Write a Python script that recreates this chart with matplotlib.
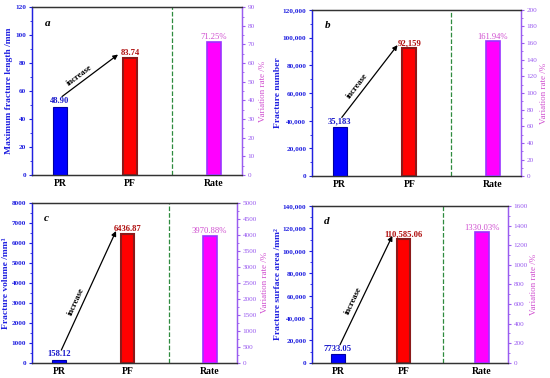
import numpy as np
import matplotlib
matplotlib.use("Agg")
import matplotlib.pyplot as plt
from matplotlib.ticker import FuncFormatter, AutoMinorLocator

plt.rcParams['font.family'] = ['Liberation Serif', 'DejaVu Serif']
plt.rcParams['font.weight'] = 'bold'

categories = ["PR", "PF", "Rate"]
panel_letters = ["a", "b", "c", "d"]

pr_values = [48.90, 35183, 158.12, 7733.05]
pf_values = [83.74, 92159, 6436.87, 110585.06]
rate_values = [71.25, 161.94, 3970.88, 1330.03]

pr_labels = ["48.90", "35,183", "158.12", "7733.05"]
pf_labels = ["83.74", "92,159", "6436.87", "110,585.06"]
rate_labels = ["71.25%", "161.94%", "3970.88%", "1330.03%"]

left_labels = ["Maximum fracture length /mm", "Fracture number",
               "Fracture volume /mm³", "Fracture surface area /mm²"]
left_max = [120, 120000, 8000, 140000]
left_step = [20, 20000, 1000, 20000]
right_max = [90, 200, 5000, 1600]
right_step = [10, 20, 500, 200]
left_comma = [False, True, False, True]

positions = [1, 2, 3.2]
divider_x = 2.6

boxes = [
    [0.058, 0.537, 0.382, 0.444],
    [0.567, 0.534, 0.380, 0.440],
    [0.058, 0.040, 0.373, 0.423],
    [0.567, 0.040, 0.357, 0.415],
]
left_label_x = [-0.11, -0.16, -0.125, -0.17]
right_label_x = [1.10, 1.11, 1.135, 1.13]

blue = "#2020e0"
violet = "#9a5cf0"
magenta_txt = "#d050d0"

fig = plt.figure(figsize=(5.5, 3.78), dpi=100)

for i in range(4):
    ax = fig.add_axes(boxes[i])
    ax2 = ax.twinx()
    ax.set_xlim(0.6, 3.6)
    ax.set_ylim(0, left_max[i])
    ax2.set_ylim(0, right_max[i])

    ax.bar(positions[0], pr_values[i], width=0.2, color="#0000ff",
           edgecolor="#0000a0", linewidth=0.8, zorder=3)
    ax.bar(positions[1], pf_values[i], width=0.2, color="#ff0000",
           edgecolor="#8b1a1a", linewidth=1.5, zorder=3)
    ax2.bar(positions[2], rate_values[i], width=0.2, color="#ff00ff",
            edgecolor="#9933ff", linewidth=1.2, zorder=3)
    ax.axvline(divider_x, color="#2e8b3e", linestyle="--", linewidth=0.9)

    ym = left_max[i]
    ax.text(positions[0], pr_values[i] + 0.01 * ym, pr_labels[i], ha="center",
            va="bottom", color="#1a1acc", fontsize=6.2, fontweight="bold")
    ax.text(positions[1], pf_values[i] + 0.005 * ym, pf_labels[i], ha="center",
            va="bottom", color="#b01010", fontsize=6.2, fontweight="bold")
    ax2.text(positions[2], rate_values[i] + 0.005 * right_max[i], rate_labels[i],
             ha="center", va="bottom", color=magenta_txt, fontsize=6.2,
             fontweight="normal")

    # arrow from PR to PF
    start = (positions[0] + 0.03, pr_values[i] + 0.06 * ym)
    end = (positions[1] - 0.17, pf_values[i] + 0.02 * ym)
    ax.annotate("", xy=end, xytext=start,
                arrowprops=dict(arrowstyle="-|>", color="black", lw=0.9,
                                mutation_scale=7, shrinkA=0, shrinkB=0))
    p0 = ax.transData.transform(start)
    p1 = ax.transData.transform(end)
    d = p1 - p0
    ang = np.degrees(np.arctan2(d[1], d[0]))
    u = d / np.hypot(*d)
    nrm = np.array([-u[1], u[0]])
    pos = p0 + 0.38 * d + 7 * nrm
    tx, ty = ax.transData.inverted().transform(pos)
    ax.text(tx, ty, "increase", rotation=ang, rotation_mode="anchor",
            ha="center", va="center", fontsize=6.2, fontweight="bold")

    ax.text(0.06, 0.93, panel_letters[i], transform=ax.transAxes,
            fontsize=8, fontweight="bold", style="italic", va="top")

    ax.set_xticks(positions)
    ax.set_xticklabels(categories, fontsize=7, fontweight="bold")
    ax.tick_params(axis="x", length=0, pad=3)

    ax.set_yticks(np.arange(0, left_max[i] + 1, left_step[i]))
    if left_comma[i]:
        ax.yaxis.set_major_formatter(FuncFormatter(lambda v, p: f"{int(v):,}"))
    ax.yaxis.set_minor_locator(AutoMinorLocator(2))
    ax.tick_params(axis="y", colors=blue, labelsize=5.2, length=2.5, width=0.8, pad=1.5)
    ax.tick_params(axis="y", which="minor", colors=blue, length=1.5, width=0.6)
    ax.set_ylabel(left_labels[i], color=blue, fontsize=6.8, fontweight="bold")
    ax.yaxis.set_label_coords(left_label_x[i], 0.5)
    ax.yaxis.label.set_va("center")

    ax2.set_yticks(np.arange(0, right_max[i] + 1, right_step[i]))
    ax2.yaxis.set_minor_locator(AutoMinorLocator(2))
    ax2.tick_params(axis="y", colors=violet, labelsize=5.2, length=2.5, width=0.8, pad=1.5)
    ax2.tick_params(axis="y", which="minor", colors=violet, length=1.5, width=0.6)
    for t in ax2.get_yticklabels():
        t.set_fontweight("normal")
    ax2.set_ylabel("Variation rate /%", color=magenta_txt, fontsize=6.5,
                   fontweight="normal")
    ax2.yaxis.set_label_coords(right_label_x[i], 0.5)
    ax2.yaxis.label.set_va("center")

    for a in (ax, ax2):
        a.spines["left"].set_color(blue)
        a.spines["right"].set_color(violet)
        a.spines["top"].set_color("#333333")
        a.spines["bottom"].set_color("#333333")
        for s in a.spines.values():
            s.set_linewidth(0.9)

fig.savefig("out.png", dpi=100)
